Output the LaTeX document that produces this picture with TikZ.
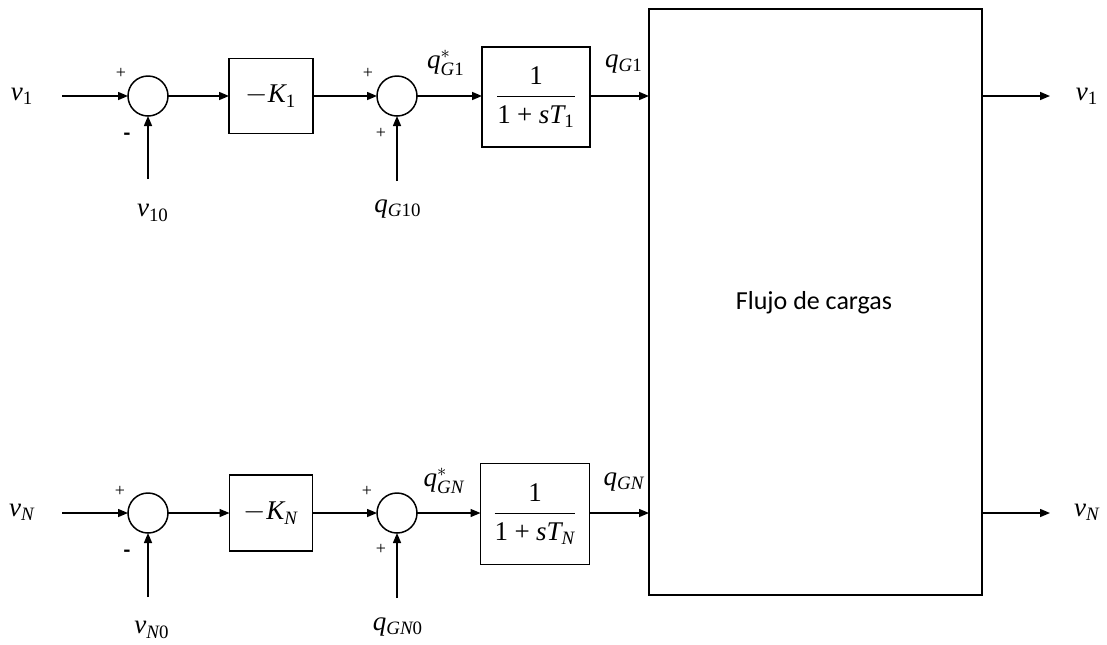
\documentclass[tikz,border=0pt]{standalone}
\usepackage{fontspec}
\usepackage{amsmath}
\setmainfont{Liberation Serif}
\newfontfamily\calibri{Carlito}
\usetikzlibrary{arrows.meta}
\newcommand{\tx}[1]{\text{#1}}
\newcommand{\pls}{\mathbin{\text{+}}}
\tikzset{
  arr/.style={draw, line width=0.75pt, -{Triangle[length=5pt,width=4pt]}},
  blk/.style={draw, line width=0.75pt, rectangle, inner sep=0pt, outer sep=0pt},
  sumc/.style={draw, line width=0.75pt, circle, minimum size=20pt, inner sep=0pt, outer sep=0pt},
  lbl/.style={inner sep=0pt, font=\fontsize{13.5}{15}\selectfont},
  sgnp/.style={inner sep=0pt, font=\fontsize{9}{10}\selectfont},
  sgnm/.style={inner sep=0pt, font=\calibri\bfseries\fontsize{11}{13}\selectfont},
}
\begin{document}
\begin{tikzpicture}[x=0.5pt, y=-0.5pt]
\useasboundingbox (0,0) rectangle (1107,644);

% big block
\node[blk, minimum width=166.5pt, minimum height=293pt] (flow) at (815.5,302) {};
\node[inner sep=0pt, font=\calibri\fontsize{13}{15}\selectfont] (flowtxt) at (814,303) {Flujo de cargas};

% ---------- top row ----------
\node[lbl] (v1) at (22,96) {$\mathit{v}_{\tx{1}}$};
\coordinate (in1) at (62,96);
\node[sumc] (s1) at (148,96) {};
\node[sgnp] (p1) at (121,73) {+};
\node[sgnm] (m1) at (127,137) {-};
\coordinate (r1) at (148,179);
\node[lbl] (v10) at (153,213) {$\mathit{v}_{\tx{10}}$};
\node[blk, minimum width=42pt, minimum height=37.5pt] (k1) at (271,96) {\fontsize{13.5}{15}\selectfont$-\mathit{K}_{\tx{1}}$};
\node[sumc] (t1) at (397,96) {};
\node[sgnp] (p2) at (368,73) {+};
\node[sgnp] (p3) at (381,133) {+};
\coordinate (q1in) at (397,181);
\node[lbl] (qg10) at (398,209) {$\mathit{q}_{\mathit{G}\tx{10}}$};
\node[lbl] (qs1) at (446,63) {$\mathit{q}^{*}_{\mathit{G}\tx{1}}$};
\node[blk, minimum width=54pt, minimum height=50pt] (g1) at (536,97) {\fontsize{13.5}{15}\selectfont$\dfrac{\tx{1}}{\tx{1}\pls\mathit{sT}_{\tx{1}}}$};
\node[lbl] (qg1) at (624,64) {$\mathit{q}_{\mathit{G}\tx{1}}$};
\coordinate (out1) at (1050,96);
\node[lbl] (vo1) at (1087,96) {$\mathit{v}_{\tx{1}}$};

\draw[arr] (in1) -- (s1.west);
\draw[arr] (r1) -- (s1.south);
\draw[arr] (s1.east) -- (s1.east -| k1.west);
\draw[arr] (s1.east -| k1.east) -- (t1.west);
\draw[arr] (q1in) -- (t1.south);
\draw[arr] (t1.east) -- (t1.east -| g1.west);
\draw[arr] (t1.east -| g1.east) -- (t1.east -| flow.west);
\draw[arr] (in1 -| flow.east) -- (out1);

% ---------- bottom row ----------
\node[lbl] (vN) at (22,512) {$\mathit{v}_{\mathit{N}}$};
\coordinate (inN) at (62,513);
\node[sumc] (sN) at (148,513) {};
\node[sgnp] (pN1) at (120,491) {+};
\node[sgnm] (mN) at (127,554) {-};
\coordinate (rN) at (148,597);
\node[lbl] (vN0) at (152,630) {$\mathit{v}_{\mathit{N}\tx{0}}$};
\node[blk, minimum width=41.5pt, minimum height=38pt] (kN) at (271,513) {\fontsize{13.5}{15}\selectfont$-\mathit{K}_{\mathit{N}}$};
\node[sumc] (tN) at (397,513) {};
\node[sgnp] (pN2) at (367,491) {+};
\node[sgnp] (pN3) at (381,549) {+};
\coordinate (qNin) at (397,598);
\node[lbl] (qgN0) at (398,627) {$\mathit{q}_{\mathit{GN}\tx{0}}$};
\node[lbl] (qsN) at (444,481) {$\mathit{q}^{*}_{\mathit{GN}}$};
\node[blk, minimum width=54.5pt, minimum height=50.5pt] (gN) at (535,514) {\fontsize{13.5}{15}\selectfont$\dfrac{\tx{1}}{\tx{1}\pls\mathit{sT}_{\mathit{N}}}$};
\node[lbl] (qgN) at (624,482) {$\mathit{q}_{\mathit{GN}}$};
\coordinate (outN) at (1050,513);
\node[lbl] (voN) at (1087,512) {$\mathit{v}_{\mathit{N}}$};

\draw[arr] (inN) -- (sN.west);
\draw[arr] (rN) -- (sN.south);
\draw[arr] (sN.east) -- (sN.east -| kN.west);
\draw[arr] (sN.east -| kN.east) -- (tN.west);
\draw[arr] (qNin) -- (tN.south);
\draw[arr] (tN.east) -- (tN.east -| gN.west);
\draw[arr] (tN.east -| gN.east) -- (tN.east -| flow.west);
\draw[arr] (inN -| flow.east) -- (outN);
\end{tikzpicture}
\end{document}
